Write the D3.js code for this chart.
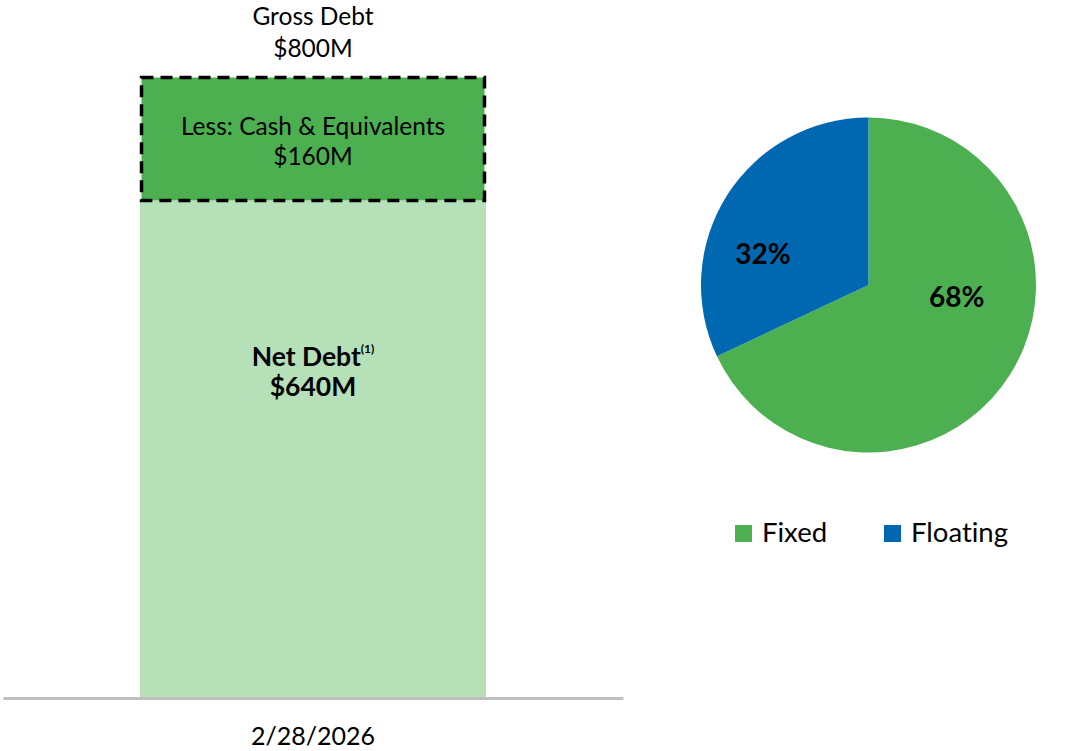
<!DOCTYPE html>
<html>
<head>
<meta charset="utf-8">
<script src="https://cdn.jsdelivr.net/npm/d3@7"></script>
<style>
  body { margin: 0; background: #fff; }
  text { font-family: Lato, "Open Sans", sans-serif; fill: #000; font-variant-ligatures: none; }
</style>
</head>
<body>
<div id="chart"></div>
<script>
// Data
var dates = ["2/28/2026"];
var grossDebt = [800];
var cashEquiv = [160];
var netDebt = [640];
var pieLabels = ["Fixed", "Floating"];
var pieValues = [68, 32];
var pieColors = ["#4caf50", "#0068b1"];

function init(){
    var W = 1069, H = 751;
    var svg = d3.select("#chart").append("svg")
        .attr("width", W).attr("height", H);

    // Bar part
    var baseY = 698;
    var xScale = d3.scaleBand()
        .domain(dates)
        .range([3, 623])
        .paddingInner(0)
        .paddingOuter(0.396);

    var yScale = d3.scaleLinear()
        .domain([0, 800])
        .range([baseY, 76]);

    var bx = xScale(dates[0]);
    var bw = xScale.bandwidth();

    // net debt bar
    svg.selectAll("rect.net")
        .data(netDebt)
        .enter().append("rect")
        .attr("class", "net")
        .attr("x", bx)
        .attr("y", function(d){ return yScale(d); })
        .attr("width", bw)
        .attr("height", function(d){ return baseY - yScale(d); })
        .attr("fill", "#b6e0b8");

    // cash segment stacked on top
    svg.selectAll("rect.cash")
        .data(cashEquiv)
        .enter().append("rect")
        .attr("class", "cash")
        .attr("x", bx + 1.5)
        .attr("y", function(d, i){ return yScale(netDebt[i] + d) + 1.5; })
        .attr("width", bw - 3)
        .attr("height", function(d, i){ return yScale(netDebt[i]) - yScale(netDebt[i] + d) - 1.5; })
        .attr("fill", "#4caf50")
        .attr("stroke", "#000")
        .attr("stroke-width", 3.5)
        .attr("stroke-dasharray", "12,7");

    // x axis
    var xAxis = d3.axisBottom(xScale).tickSize(0).tickPadding(29);
    var ax = svg.append("g")
        .attr("transform", "translate(0," + baseY + ")")
        .call(xAxis);
    ax.select(".domain").attr("stroke", "#bfbfbf").attr("stroke-width", 3);
    ax.selectAll("text")
        .style("font-family", "Lato, sans-serif")
        .attr("font-size", 25)
        .attr("fill", "#000");

    var cx = bx + bw / 2;

    // gross debt label
    var top = svg.append("text").attr("text-anchor", "middle").attr("font-size", 24.5);
    top.append("tspan").attr("x", cx).attr("y", 25).text("Gross Debt");
    top.append("tspan").attr("x", cx).attr("y", 57).text("$" + grossDebt[0] + "M");

    // cash label
    var cy = (yScale(grossDebt[0]) + yScale(netDebt[0])) / 2;
    var cl = svg.append("text").attr("text-anchor", "middle").attr("font-size", 24.5);
    cl.append("tspan").attr("x", cx).attr("y", cy - 3).text("Less: Cash & Equivalents");
    cl.append("tspan").attr("x", cx).attr("y", cy + 27).text("$" + cashEquiv[0] + "M");

    // net debt label
    var nl = svg.append("text").attr("text-anchor", "middle")
        .attr("font-size", 26.5).attr("font-weight", "bold");
    nl.append("tspan").attr("x", cx).attr("y", 366).text("Net Debt");
    nl.append("tspan").attr("font-size", 12).attr("dy", -13).text("(1)");
    svg.append("text").attr("text-anchor", "middle")
        .attr("font-size", 26.5).attr("font-weight", "bold")
        .attr("x", cx).attr("y", 396)
        .text("$" + netDebt[0] + "M");

    // Pie
    var pcx = 868.5, pcy = 285, r = 167.5;
    var pie = d3.pie().sort(null).value(function(d){ return d; });
    var arc = d3.arc().innerRadius(0).outerRadius(r);
    // label placement (angle shift in degrees, radius) like Excel best fit
    var labelShift = [-24.7, -16];
    var labelRad = [89, 110];
    var g = svg.append("g").attr("transform", "translate(" + pcx + "," + pcy + ")");
    var arcs = pie(pieValues);

    g.selectAll("path")
        .data(arcs)
        .enter().append("path")
        .attr("d", arc)
        .attr("fill", function(d, i){ return pieColors[i]; });

    g.selectAll("text")
        .data(arcs)
        .enter().append("text")
        .attr("transform", function(d, i){
            var a = (d.startAngle + d.endAngle) / 2 + labelShift[i] * Math.PI / 180;
            return "translate(" + (Math.sin(a) * labelRad[i]) + "," + (-Math.cos(a) * labelRad[i]) + ")";
        })
        .attr("text-anchor", "middle")
        .attr("dy", "0.35em")
        .attr("font-size", 28)
        .attr("font-weight", "bold")
        .text(function(d){ return d.data + "%"; });

    // Legend
    var legX = [735, 884];
    var leg = svg.selectAll("g.leg")
        .data(pieLabels)
        .enter().append("g")
        .attr("class", "leg")
        .attr("transform", function(d, i){ return "translate(" + legX[i] + ",525)"; });
    leg.append("rect")
        .attr("width", 17).attr("height", 17)
        .attr("fill", function(d, i){ return pieColors[i]; });
    leg.append("text")
        .attr("x", 27).attr("y", 17)
        .attr("font-size", 27.5)
        .text(function(d){ return d; });
}
window.onload = init;
</script>
</body>
</html>
